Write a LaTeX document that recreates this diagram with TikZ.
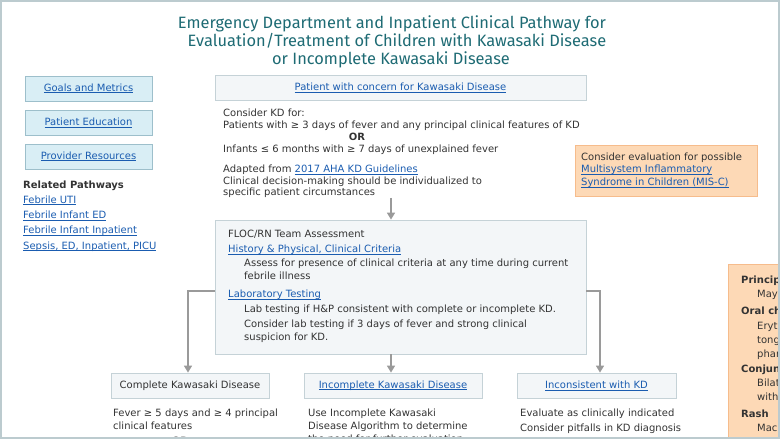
\documentclass[tikz,border=0pt]{standalone}
\usepackage{fontspec}
\setmainfont{DejaVu Sans}
\newfontfamily\titlefont{Fira Sans}
\usetikzlibrary{arrows.meta, positioning}

\definecolor{frameclr}{HTML}{BCCBCF}
\definecolor{titleclr}{HTML}{1E6B74}
\definecolor{linkclr}{HTML}{1A5CB0}
\definecolor{txtclr}{HTML}{333333}
\definecolor{boxfill}{HTML}{F3F6F8}
\definecolor{boxline}{HTML}{C5D2D7}
\definecolor{bluefill}{HTML}{D9EEF5}
\definecolor{blueline}{HTML}{9DBFCB}
\definecolor{orfill}{HTML}{FDD9B6}
\definecolor{orline}{HTML}{F6BC8C}
\definecolor{arrclr}{HTML}{9A9A9A}

% underlined web link
\newcommand{\lnk}[1]{\begingroup\color{linkclr}\setbox0=\hbox{#1}\rlap{\rule[-1.7pt]{\wd0}{0.65pt}}\box0\endgroup}

\tikzset{
  txt/.style={anchor=base west, inner sep=0pt, text=txtclr, align=left,
    font=\fontsize{10}{13}\selectfont},
  head/.style={txt, font=\fontsize{10}{13}\selectfont\bfseries},
  ttl/.style={anchor=base, inner sep=0pt, text=titleclr, font=\titlefont\fontsize{16.4}{18}\selectfont},
  linkbox/.style={draw=blueline, fill=bluefill, line width=0.8pt, minimum width=127, minimum height=25,
    inner sep=0pt, font=\fontsize{10}{12}\selectfont},
  stepbox/.style={draw=boxline, fill=boxfill, line width=0.8pt, minimum height=25, inner sep=0pt,
    text=txtclr, font=\fontsize{10}{12}\selectfont},
  arr/.style={draw=arrclr, line width=1.5pt, -{Triangle[width=8pt,length=7pt]}}
}

\begin{document}
\begin{tikzpicture}[x=1pt, y=-1pt]
\useasboundingbox (0,0) rectangle (780,439);
\begin{scope}
\clip (1,1) rectangle (779,437);

% title
\node[ttl] (title1) at (392, 28.5) {Emergency Department and Inpatient Clinical Pathway for};
\node[ttl] (title2) at (397, 46.5) {Evaluation/Treatment of Children with Kawasaki Disease};
\node[ttl] (title3) at (391, 64) {or Incomplete Kawasaki Disease};

% left column
\node[linkbox] (goals) at (88.5, 88.5) {\lnk{Goals and Metrics}};
\node[linkbox] (educ) at (88.5, 122.5) {\lnk{Patient Education}};
\node[linkbox] (provres) at (88.5, 156.5) {\lnk{Provider Resources}};
\node[head] (related) at (23, 188.5) {Related Pathways};
\node[txt] (uti) at (23, 203) {\lnk{Febrile UTI}};
\node[txt] (infed) at (23, 218.5) {\lnk{Febrile Infant ED}};
\node[txt] (infinp) at (23, 233.5) {\lnk{Febrile Infant Inpatient}};
\node[txt] (sepsis) at (23, 249) {\lnk{Sepsis, ED, Inpatient, PICU}};

% entry
\node[stepbox, minimum width=371] (concern) at (400.5, 88) {\lnk{Patient with concern for Kawasaki Disease}};
\node[txt, font=\fontsize{10}{12}\selectfont] (consider) at (223, 128.5) {Consider KD for:\\
  Patients with ≥ 3 days of fever and any principal clinical features of KD};
\node[head, anchor=base] (or1) at (357, 140.5) {OR};
\node[txt] (infants) at (223, 152.5) {Infants ≤ 6 months with ≥ 7 days of unexplained fever};
\node[txt, font=\fontsize{10}{11.5}\selectfont] (adapted) at (223, 195.5) {Adapted from \lnk{2017 AHA KD Guidelines}\\
  Clinical decision-making should be individualized to\\specific patient circumstances};

% MIS-C
\node[draw=orline, fill=orfill, line width=0.8pt, minimum width=182, minimum height=51] (misc) at (666, 170.5) {};
\node[txt, font=\fontsize{10}{12.8}\selectfont] (misctxt) at (581, 185.6) {Consider evaluation for possible\\
  \lnk{Multisystem Inflammatory}\\\lnk{Syndrome in Children (MIS-C)}};

% assessment
\node[stepbox, minimum width=371, minimum height=134] (floc) at (400.5, 287) {};
\node[txt] (floctxt) at (228, 237.5) {FLOC/RN Team Assessment};
\node[txt] (hp) at (228, 252.5) {\lnk{History \& Physical, Clinical Criteria}};
\node[txt] (assess) at (244, 279.5) {Assess for presence of clinical criteria at any time during current\\febrile illness};
\node[txt] (lab) at (228, 297.5) {\lnk{Laboratory Testing}};
\node[txt] (labif) at (244, 312.5) {Lab testing if H\&P consistent with complete or incomplete KD.};
\node[txt] (labcons) at (244, 340.5) {Consider lab testing if 3 days of fever and strong clinical\\suspicion for KD.};

% outcomes
\node[stepbox, minimum width=158] (complete) at (190, 385.5) {Complete Kawasaki Disease};
\node[stepbox, minimum width=178] (incomp) at (393, 385.5) {\lnk{Incomplete Kawasaki Disease}};
\node[stepbox, minimum width=159] (incons) at (596.5, 385.5) {\lnk{Inconsistent with KD}};
\node[txt] (fever) at (113, 429.5) {Fever ≥ 5 days and ≥ 4 principal\\clinical features};
\node[head, anchor=base] (or2) at (180, 444.5) {OR};
\node[txt] (usealg) at (308, 442.5) {Use Incomplete Kawasaki\\Disease Algorithm to determine\\the need for further evaluation};
\node[txt] (evaluate) at (520, 416.5) {Evaluate as clinically indicated};
\node[txt] (pitfalls) at (520, 431.5) {Consider pitfalls in KD diagnosis};

% principal features (cut off at the right)
\draw[draw=orline, fill=orfill, line width=0.8pt] (728, 264) rectangle (800, 460);
\node[head] (princ) at (741, 283.5) {Principal};
\node[txt] (may) at (757, 297.5) {May be};
\node[head] (oral) at (741, 314.5) {Oral changes};
\node[txt] (eryth) at (757, 329.5) {Erythema};
\node[txt] (tongue) at (757, 343.5) {tongue};
\node[txt] (phar) at (757, 357.5) {pharynx};
\node[head] (conj) at (741, 372.5) {Conjunctivitis};
\node[txt] (bilat) at (757, 386.5) {Bilateral};
\node[txt] (without) at (757, 400.5) {without};
\node[head] (rash) at (741, 417.5) {Rash};
\node[txt] (macu) at (757, 431.5) {Maculopapular};

% connectors
\coordinate (axis) at (391, 0);
\coordinate (split) at (0, 291);
\draw[arr] (axis |- adapted.south) -- (axis |- floc.north);
\draw[arr] (floc.west |- split) -| ([xshift=-2pt]complete.north);
\draw[arr] (axis |- floc.south) -- (axis |- incomp.north);
\draw[arr] (floc.east |- split) -| ([xshift=3.5pt]incons.north);
\end{scope}

% page frame
\draw[frameclr, line width=2pt] (1,1) rectangle (779,438);
\end{tikzpicture}
\end{document}
